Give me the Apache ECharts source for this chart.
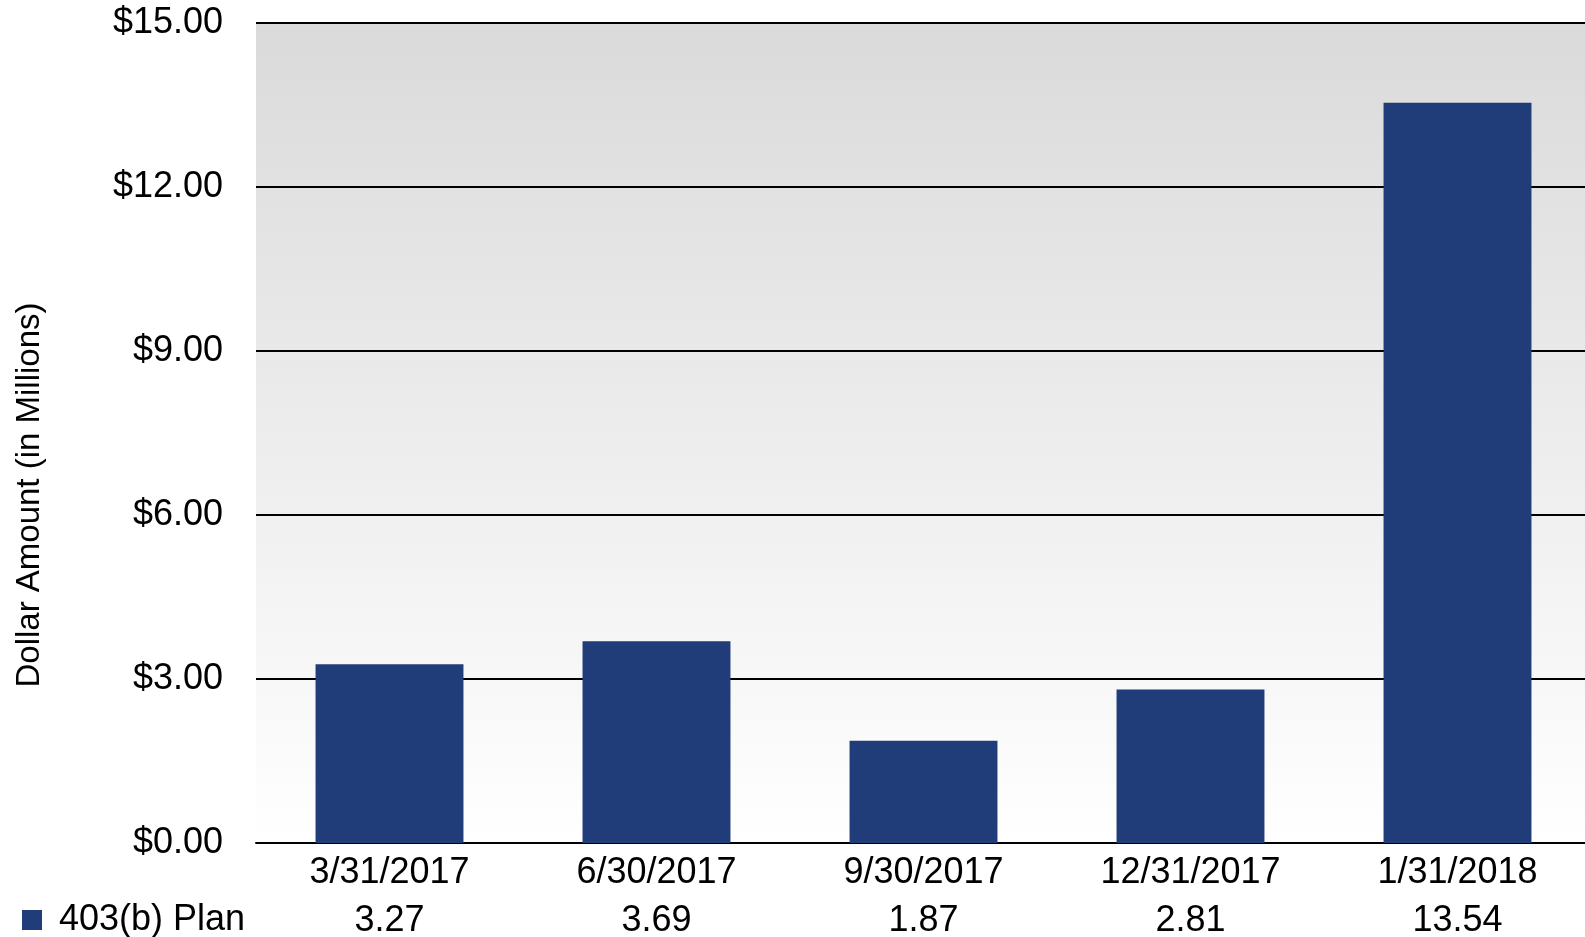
<!DOCTYPE html>
<html><head><meta charset="utf-8">
<script src="https://cdn.jsdelivr.net/npm/echarts@6/dist/echarts.min.js"></script>
<style>html,body{margin:0;padding:0;background:#fff}#c{width:1585px;height:937px}</style>
</head><body><div id="c"></div>
<script>
const categories = ['3/31/2017','6/30/2017','9/30/2017','12/31/2017','1/31/2018'];
const seriesName = '403(b) Plan';
const values = [3.27, 3.69, 1.87, 2.81, 13.54];
const valueLabels = ['3.27','3.69','1.87','2.81','13.54'];
const yTicks = {min: 0, max: 15, interval: 3};

const chart = echarts.init(document.getElementById('c'));
const font = '"Liberation Sans", Arial, sans-serif';
chart.setOption({
  animation: false,
  textStyle: {fontFamily: font},
  grid: {
    left: 256, top: 23, bottom: 94, right: -6, containLabel: false, outerBoundsMode: 'none',
    show: true, borderWidth: 0,
    backgroundColor: new echarts.graphic.LinearGradient(0,0,0,1,[{offset:0,color:'#dadada'},{offset:1,color:'#ffffff'}])
  },
  legend: {
    left: 22, top: 902, icon: 'rect', itemWidth: 20, itemHeight: 20, itemGap: 10, padding: 0,
    textStyle: {fontSize: 36, color: '#000', fontFamily: font, padding: [0,0,0,12]},
    data: [seriesName]
  },
  graphic: [{
    type: 'text', x: 30, y: 495, rotation: Math.PI/2,
    style: {text: 'Dollar Amount (in Millions)', fontSize: 33, fill: '#000', fontFamily: font, align: 'center', verticalAlign: 'middle'}
  }],
  xAxis: {
    type: 'category', data: categories,
    axisLine: {show: true, lineStyle: {color: '#000', width: 2}},
    axisTick: {show: false},
    axisLabel: {
      color: '#000', fontSize: 36, margin: 6, lineHeight: 48,
      formatter: (v, i) => v + '\n' + valueLabels[i]
    }
  },
  yAxis: {
    type: 'value', min: yTicks.min, max: yTicks.max, interval: yTicks.interval,
    axisLine: {show: false}, axisTick: {show: false},
    splitLine: {show: true, lineStyle: {color: '#000', width: 2}},
    axisLabel: {color: '#000', fontSize: 36, margin: 33, formatter: v => '$' + v.toFixed(2)}
  },
  series: [{
    name: seriesName, type: 'bar', data: values, barWidth: '55.4%',
    itemStyle: {color: '#213d79'}
  }]
});
</script></body></html>
